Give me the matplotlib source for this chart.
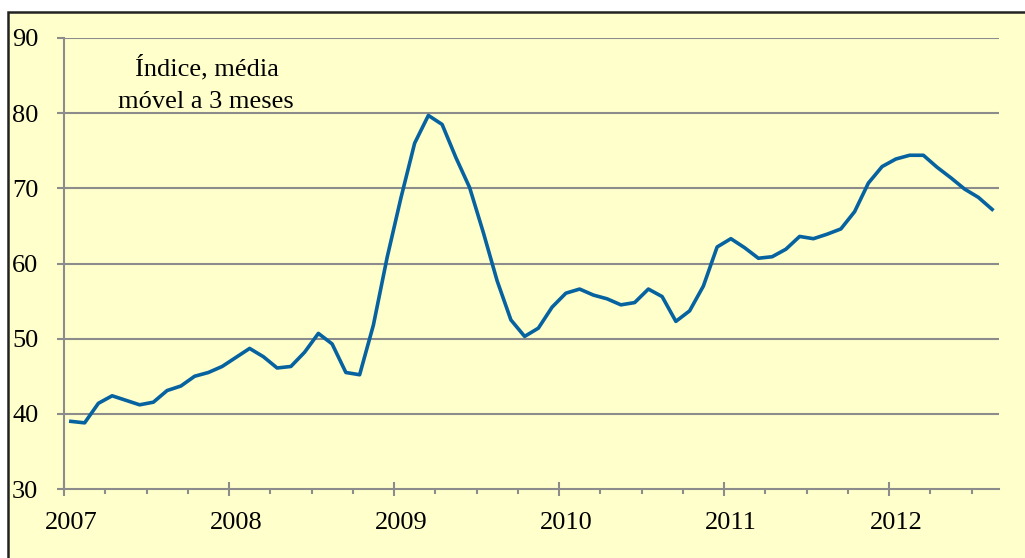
#!/usr/bin/env python3

import matplotlib
matplotlib.use('Agg')
import matplotlib.pyplot as plt
from matplotlib.patches import Rectangle
import numpy as np

# Índice mensal (média móvel 3 meses), jan 2007 - ago 2012
valores = [39.0, 38.8, 41.4, 42.4, 41.8, 41.2, 41.55, 43.1, 43.7, 45.0, 45.5, 46.3,
           47.5, 48.7, 47.6, 46.1, 46.3, 48.2, 50.7, 49.3, 45.5, 45.2, 51.8, 60.8,
           68.7, 76.0, 79.7, 78.5, 74.1, 70.1, 64.1, 57.7, 52.5, 50.3, 51.4, 54.2,
           56.05, 56.6, 55.8, 55.3, 54.5, 54.8, 56.6, 55.6, 52.3, 53.7, 57.0, 62.2,
           63.3, 62.1, 60.7, 60.9, 61.9, 63.6, 63.3, 63.9, 64.6, 66.9, 70.7, 72.9,
           73.9, 74.4, 74.4, 72.8, 71.4, 69.9, 68.8, 67.2]
anos = ['2007', '2008', '2009', '2010', '2011', '2012']
y_ticks = [30, 40, 50, 60, 70, 80, 90]

plt.rcParams['font.family'] = ['Liberation Serif', 'DejaVu Serif']

amarelo = '#FFFFCC'
cinza = '#8C8C8C'
tam = 19

fig = plt.figure(figsize=(10.25, 5.58), dpi=100)
fig.patch.set_facecolor('white')
# moldura do grafico (cortada a direita e em baixo)
moldura = Rectangle((8 / 1025, -0.05), 1.1, 1.05 - 12 / 558,
                    transform=fig.transFigure, facecolor=amarelo,
                    edgecolor='#222222', linewidth=1.8, zorder=-10)
fig.add_artist(moldura)

ax = fig.add_axes([64 / 1025, 1 - 489 / 558, (999 - 64) / 1025, (489 - 38) / 558])
ax.set_zorder(1)
ax.patch.set_alpha(0)

x = np.arange(len(valores)) + 0.5
ax.plot(x, valores, color='#0762A0', linewidth=2.6, solid_joinstyle='round', zorder=3)

ax.set_xlim(0, len(valores))
ax.set_ylim(30, 90)

# grelha horizontal
for v in y_ticks[1:]:
    ax.axhline(v, color=cinza, linewidth=1.5, zorder=1)
ax.set_yticks(y_ticks)
ax.set_yticklabels([str(v) for v in y_ticks], fontsize=tam)
ax.tick_params(axis='y', length=5, width=1.5, color=cinza, pad=13.5)

# eixo x: marcas de ano e de trimestre
ax.set_xticks([12 * i for i in range(len(anos))])
ax.set_xticklabels([])
ax.tick_params(axis='x', which='major', direction='inout', length=10, width=1.5, color=cinza)
ax.set_xticks([m for m in range(3, len(valores) + 1, 3) if m % 12 != 0], minor=True)
ax.tick_params(axis='x', which='minor', direction='out', length=3.8, width=1.5, color=cinza)
for i, a in enumerate(anos):
    ax.text(12 * i + 0.5, 25.5, a, ha='center', va='center', fontsize=tam)

for s in ['top', 'right']:
    ax.spines[s].set_visible(False)
for s in ['left', 'bottom']:
    ax.spines[s].set_color(cinza)
    ax.spines[s].set_linewidth(1.5)

ax.text(10.4, 86.0, 'Índice, média', ha='center', va='center', fontsize=tam)
ax.text(10.3, 81.5, 'móvel a 3 meses', ha='center', va='center', fontsize=tam)

plt.savefig('out.png', dpi=100)
